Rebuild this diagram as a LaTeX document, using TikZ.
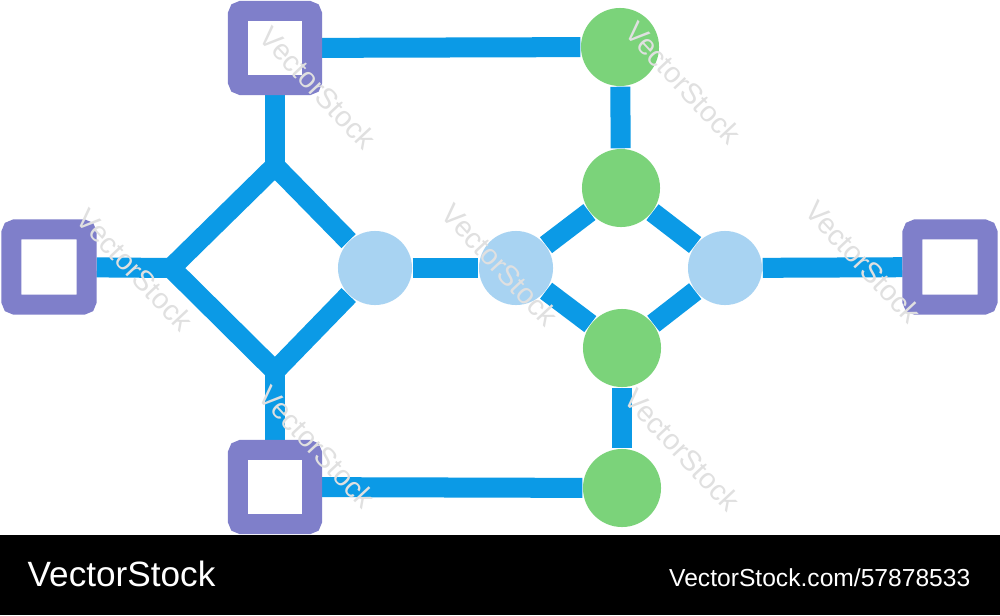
\documentclass[tikz,border=0pt]{standalone}
\usepackage{fontspec}
\setmainfont{Liberation Sans}
\usetikzlibrary{backgrounds}
\definecolor{linkblue}{HTML}{0B9AE6}
\definecolor{boxpurple}{HTML}{7F7FCA}
\definecolor{hubblue}{HTML}{A8D3F2}
\definecolor{leafgreen}{HTML}{7BD37A}
\definecolor{markgray}{HTML}{E0E0E0}
\begin{document}
\begin{tikzpicture}[x=0.01cm,y=-0.01cm,
  link/.style={draw=linkblue,line width=0.2cm},
  portbox/.style={draw=boxpurple,fill=white,line width=0.2cm,minimum size=0.74cm,inner sep=0pt,rounded corners=0.035cm},
  hub/.style={circle,fill=hubblue,minimum size=0.74cm,inner sep=0pt},
  leaf/.style={circle,fill=leafgreen,minimum size=0.78cm,inner sep=0pt},
  wmark/.style={text=markgray,font=\fontsize{8.2}{8.2}\selectfont,rotate=-47,inner sep=0pt},
  bartext/.style={text=white,inner sep=0pt},
]
\useasboundingbox (0,0) rectangle (1000,615);

% port boxes
\node[portbox] (boxTop) at (275,48) {};
\node[portbox,minimum size=0.75cm] (boxLeft) at (49,267) {};
\node[portbox] (boxBot) at (275,487) {};
\node[portbox,minimum size=0.75cm] (boxRight) at (950,267) {};

% hubs
\node[hub] (hubA) at (375,268) {};
\node[hub] (hubB) at (516,268) {};
\node[hub] (hubC) at (725,268) {};

% green nodes
\node[leaf] (leafTop) at (620,47) {};
\node[leaf] (leafB) at (621,188) {};
\node[leaf] (leafC) at (622,348) {};
\node[leaf] (leafBot) at (622,488) {};

% diamond corners
\coordinate (dleft) at (171,268);
\coordinate (dtop) at (275,166);
\coordinate (dbot) at (275,371);

\begin{pgfonlayer}{background}
  \fill[white] (0,0) rectangle (1000,615);
  \draw[link] (boxLeft) -- (dleft);
  \draw[link] (boxTop) -- (dtop);
  \draw[link] (boxBot) -- (dbot);
  \draw[link] (hubA) -- (dbot) -- (dleft) -- (dtop) -- (hubA);
  \draw[link] (boxTop) -- (leafTop);
  \draw[link] (boxBot) -- (leafBot);
  \draw[link] (hubA) -- (hubB);
  \draw[link] (hubB) -- (leafB);
  \draw[link] (leafB) -- (hubC);
  \draw[link] (hubC) -- (leafC);
  \draw[link] (leafC) -- (hubB);
  \draw[link] (leafTop) -- (leafB);
  \draw[link] (leafC) -- (leafBot);
  \draw[link] (hubC) -- (boxRight);
\end{pgfonlayer}

% watermark texts
\node[wmark] (wm1) at (318,88) {VectorStock};
\node[wmark] (wm2) at (135,270) {VectorStock};
\node[wmark] (wm3) at (500,265) {VectorStock};
\node[wmark] (wm4) at (683,83) {VectorStock};
\node[wmark] (wm5) at (863,262) {VectorStock};
\node[wmark] (wm6) at (317,447) {VectorStock};
\node[wmark] (wm7) at (682,450) {VectorStock};

% bottom bar
\fill[black] (0,535) rectangle (1000,615);
\node[bartext,anchor=base west,font=\fontsize{10}{10}\selectfont] (brand) at (27,586) {VectorStock};
\node[bartext,anchor=base east,font=\fontsize{7}{7}\selectfont] (ref) at (971,586) {VectorStock.com/57878533};
\end{tikzpicture}
\end{document}
